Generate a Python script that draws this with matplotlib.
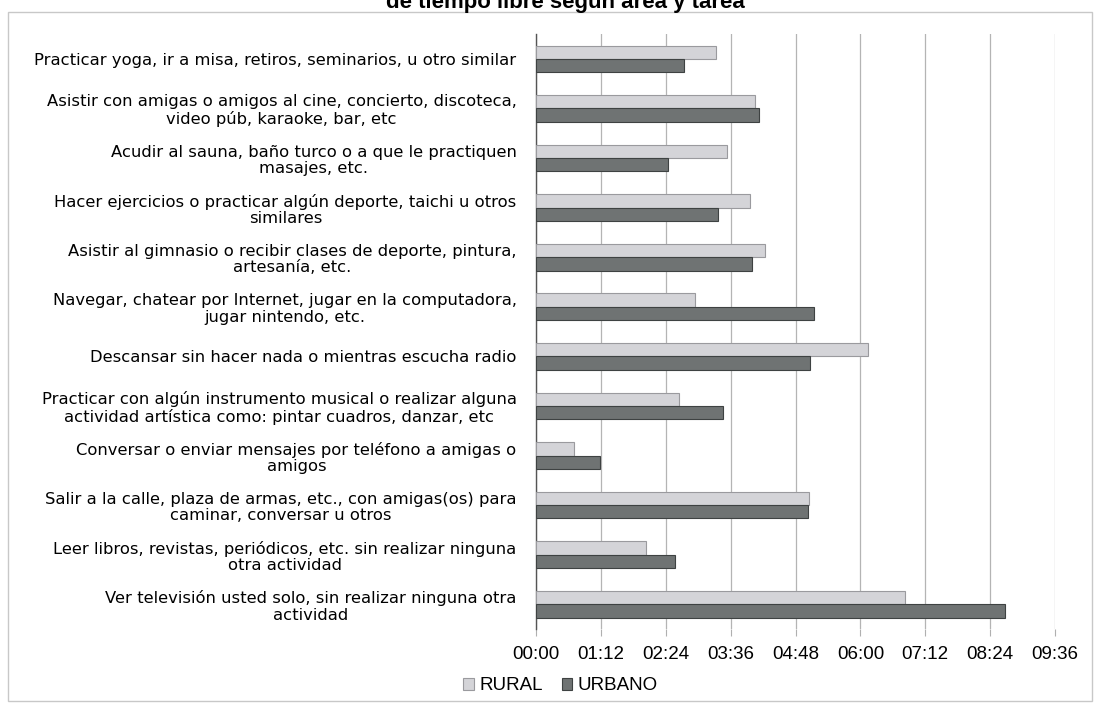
import numpy as np
import matplotlib
matplotlib.use("Agg")
import matplotlib.pyplot as plt
from matplotlib.patches import Rectangle

plt.rcParams['font.family'] = ['Liberation Sans', 'DejaVu Sans']

# Datos (tiempo promedio h:mm)
tareas = [
    "Practicar yoga, ir a misa, retiros, seminarios, u otro similar",
    "Asistir con amigas o amigos al cine, concierto, discoteca,\nvideo púb, karaoke, bar, etc",
    "Acudir al sauna, baño turco o a que le practiquen\nmasajes, etc.",
    "Hacer ejercicios o practicar algún deporte, taichi u otros\nsimilares",
    "Asistir al gimnasio o recibir clases de deporte, pintura,\nartesanía, etc.",
    "Navegar, chatear por Internet, jugar en la computadora,\njugar nintendo, etc.",
    "Descansar sin hacer nada o mientras escucha radio",
    "Practicar con algún instrumento musical o realizar alguna\nactividad artística como: pintar cuadros, danzar, etc",
    "Conversar o enviar mensajes por teléfono a amigas o\namigos",
    "Salir a la calle, plaza de armas, etc., con amigas(os) para\ncaminar, conversar u otros",
    "Leer libros, revistas, periódicos, etc. sin realizar ninguna\notra actividad",
    "Ver televisión usted solo, sin realizar ninguna otra\nactividad",
]
rural = ["3:20", "4:03", "3:32", "3:58", "4:14", "2:56",
         "6:08", "2:39", "0:42", "5:03", "2:02", "6:49"]
urbano = ["2:44", "4:08", "2:26", "3:22", "4:00", "5:09",
          "5:04", "3:28", "1:11", "5:02", "2:34", "8:41"]
ticks_lbl = ["00:00", "01:12", "02:24", "03:36", "04:48",
             "06:00", "07:12", "08:24", "09:36"]


def a_minutos(s):
    h, m = s.split(":")
    return int(h) * 60 + int(m)


r_min = np.array([a_minutos(s) for s in rural])
u_min = np.array([a_minutos(s) for s in urbano])
ticks = [a_minutos(s) for s in ticks_lbl]

fig = plt.figure(figsize=(10.99, 7.11), dpi=100)
ax = fig.add_axes([0.4877, 0.1153, 0.96 - 0.4877, 0.952 - 0.1153])

y = np.arange(len(tareas))
h = 0.27
ax.barh(y - h / 2, r_min, height=h, color="#d4d4d8", edgecolor="#9a9a9e",
        linewidth=0.8, label="RURAL", zorder=3)
ax.barh(y + h / 2, u_min, height=h, color="#6f7373", edgecolor="#3e4242",
        linewidth=0.8, label="URBANO", zorder=3)

ax.set_ylim(len(tareas) - 0.5, -0.5)
ax.set_xlim(0, ticks[-1])
ax.set_yticks(y)
ax.set_yticklabels(tareas, fontsize=11.8, family=['DejaVu Sans'],
                   multialignment="center", linespacing=1.12)
ax.tick_params(axis="y", length=0, pad=14)
ax.set_xticks(ticks)
ax.set_xticklabels(ticks_lbl, fontsize=13.5)
ax.tick_params(axis="x", length=5, color="#b0b0b0", pad=7)

ax.xaxis.grid(True, color="#b4b4b4", linewidth=0.9, zorder=0)
for lado in ["top", "right", "bottom"]:
    ax.spines[lado].set_visible(False)
ax.spines["left"].set_color("#555555")
ax.spines["left"].set_linewidth(1.0)

fig.legend(loc="center", bbox_to_anchor=(0.51, 1 - 686 / 711), ncol=2,
           frameon=False, fontsize=13.5, handlelength=0.55, handleheight=0.55,
           handletextpad=0.3, columnspacing=1.0)

# titulo (segunda linea, cortada arriba en el original)
fig.text(0.514, 1 - 8 / 711, "de tiempo libre según área y tarea",
         ha="center", va="baseline", fontsize=16, fontweight="bold")

# borde del area del grafico
fig.patches.append(Rectangle((8 / 1099, 1 - 701 / 711), 1084 / 1099, 689 / 711,
                             transform=fig.transFigure, fill=False,
                             edgecolor="#c8c8c8", linewidth=1.0))

fig.savefig("out.png", dpi=100)
